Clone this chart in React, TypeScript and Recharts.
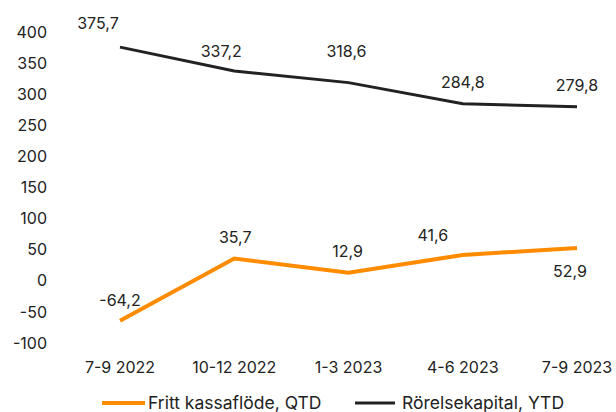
import { LineChart, Line, XAxis, YAxis, Legend, LabelList } from "recharts";

const quarters = ["7-9 2022", "10-12 2022", "1-3 2023", "4-6 2023", "7-9 2023"];
const kassaflode = [-64.2, 35.7, 12.9, 41.6, 52.9];
const rorelsekapital = [375.7, 337.2, 318.6, 284.8, 279.8];
const yTicks = [-100, -50, 0, 50, 100, 150, 200, 250, 300, 350, 400];

const ORANGE = "#ff8c00";
const DARK = "#222222";
const FONT = "Inter, 'Noto Sans', sans-serif";

// hand-placed label offsets (as in the original)
const kassaLabelShift = [
	[0, -15],
	[1, -16],
	[-1, -16],
	[-30, -14],
	[-7, 29],
];
const rorelseLabelShift = [
	[-22, -18],
	[-13, -14],
	[-2, -26],
	[0, -16],
	[0, -16],
];

const data = quarters.map((q, i) => ({
	q,
	kassa: kassaflode[i],
	rorelse: rorelsekapital[i],
}));

const fmt = (v: any) => Number(v).toFixed(1).replace(".", ",");

function makeLabel(shift: number[][]) {
	return function ValueLabel(props: any) {
		const { x, y, value, index } = props;
		const [dx, dy] = shift[index] ?? [0, -16];
		return (
			<text
				x={x + dx}
				y={y + dy}
				textAnchor="middle"
				fontSize={16}
				fill="#222"
				fontFamily={FONT}
			>
				{fmt(value)}
			</text>
		);
	};
}

const KassaLabel = makeLabel(kassaLabelShift);
const RorelseLabel = makeLabel(rorelseLabelShift);

function LegendContent() {
	const items = [
		{ name: "Fritt kassaflöde, QTD", color: ORANGE, w: 4, left: 102, len: 43, gap: 3 },
		{ name: "Rörelsekapital, YTD", color: DARK, w: 3, left: 355, len: 40, gap: 7 },
	];
	return (
		<svg width={616} height={32} style={{ display: "block" }}>
			{items.map((it) => (
				<g key={it.name}>
					<line x1={it.left} y1={23} x2={it.left + it.len} y2={23} stroke={it.color} strokeWidth={it.w} />
					<text
						x={it.left + it.len + it.gap}
						y={29}
						fontFamily={FONT}
						fontSize={17.5}
						fill="#222"
					>
						{it.name}
					</text>
				</g>
			))}
		</svg>
	);
}

export default function App() {
	return (
		<div style={{ position: "absolute", left: 0, top: 0, width: 616, height: 412, background: "#fff" }}>
			<LineChart width={616} height={412} data={data} margin={{ top: 32, right: 0, bottom: 0, left: 0 }}>
				<XAxis
					dataKey="q"
					axisLine={false}
					tickLine={false}
					padding={{ left: 54, right: 39 }}
					tick={{ fontSize: 16, fill: "#222", fontFamily: FONT }}
					tickMargin={13}
					height={37}
					interval={0}
				/>
				<YAxis
					domain={[-100, 400]}
					ticks={yTicks}
					axisLine={false}
					tickLine={false}
					width={66}
					tickMargin={13}
					tick={{ fontSize: 16, fill: "#222", fontFamily: FONT }}
				/>
				<Legend verticalAlign="bottom" height={32} content={<LegendContent />} />
				<Line
					dataKey="kassa"
					stroke={ORANGE}
					strokeWidth={4}
					dot={false}
					isAnimationActive={false}
				>
					<LabelList dataKey="kassa" content={<KassaLabel />} />
				</Line>
				<Line
					dataKey="rorelse"
					stroke={DARK}
					strokeWidth={3}
					dot={false}
					isAnimationActive={false}
				>
					<LabelList dataKey="rorelse" content={<RorelseLabel />} />
				</Line>
			</LineChart>
		</div>
	);
}
